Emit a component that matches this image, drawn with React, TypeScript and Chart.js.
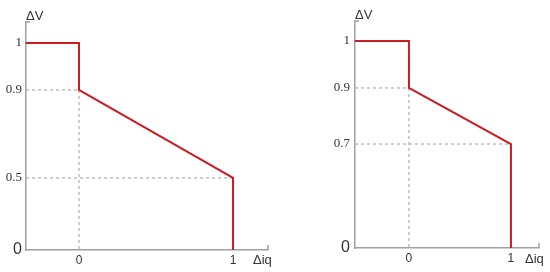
import React, { useEffect, useRef } from 'react';
import { Chart, registerables, LinearScale } from 'chart.js';

Chart.register(...registerables);

// ---- data ----
const xTicks = [0, 1];
const leftYTicks = [0, 0.5, 0.9, 1];
const rightYTicks = [0, 0.7, 0.9, 1];
// ΔV levels: [before Δiq=0, just after step at Δiq=0, at Δiq=1]
const leftLevels = [1, 0.9, 0.5];
const rightLevels = [1, 0.9, 0.7];
const xLabel = 'Δiq';
const yLabel = 'ΔV';

// Schematic (non-uniform) vertical axis: piecewise-linear value -> fraction mapping
class PiecewiseScale extends LinearScale {
  static id = 'piecewise';
  static defaults = LinearScale.defaults;
  _frac(v: number) {
    const k: number[] = (this as any).options.knots;
    const f: number[] = (this as any).options.fracs;
    const n = k.length - 1;
    if (v <= k[0]) return f[0] + ((v - k[0]) * (f[1] - f[0])) / (k[1] - k[0]);
    for (let i = 1; i <= n; i++) {
      if (v <= k[i]) return f[i - 1] + ((v - k[i - 1]) * (f[i] - f[i - 1])) / (k[i] - k[i - 1]);
    }
    return f[n] + ((v - k[n]) * (f[n] - f[n - 1])) / (k[n] - k[n - 1]);
  }
  getPixelForValue(v: any) {
    if (v === null || v === undefined) return NaN;
    return (this as any).getPixelForDecimal(this._frac(v));
  }
  getValueForPixel(p: number) {
    const d = (this as any).getDecimalForPixel(p);
    const k: number[] = (this as any).options.knots;
    const f: number[] = (this as any).options.fracs;
    for (let i = 1; i < k.length; i++) {
      if (d <= f[i]) return k[i - 1] + ((d - f[i - 1]) * (k[i] - k[i - 1])) / (f[i] - f[i - 1]);
    }
    return k[k.length - 1];
  }
}
Chart.register(PiecewiseScale as any);

const SANS = '"Liberation Sans", Arial, sans-serif';
const SERIF = '"Liberation Serif", "Times New Roman", serif';
const AXIS_COLOR = '#a0a0a0';
const TEXT_COLOR = '#333333';

const axisEnds = {
  id: 'axisEnds',
  afterDraw(chart: any, _args: any, opts: any) {
    const { ctx } = chart;
    const { left, right, top, bottom } = chart.chartArea;
    ctx.save();
    ctx.strokeStyle = AXIS_COLOR;
    ctx.lineWidth = 1.5;
    ctx.beginPath();
    ctx.moveTo(left, top);
    ctx.lineTo(left + 4, top);
    ctx.moveTo(right, bottom);
    ctx.lineTo(right, bottom - 5);
    ctx.stroke();
    ctx.fillStyle = TEXT_COLOR;
    ctx.font = '13px ' + SANS;
    ctx.textAlign = 'left';
    ctx.textBaseline = 'alphabetic';
    ctx.fillText(opts.yText, left, top - 2);
    ctx.fillText(opts.xText, right - opts.xShift, bottom + opts.xDrop);
    ctx.restore();
  },
};

function buildConfig(p: {
  levels: number[];
  yTicks: number[];
  xMin: number;
  xMax: number;
  fracs: number[];
  padTop: number;
  padRight: number;
  yW: number;
  xH: number;
  xShift: number;
  xDrop: number;
  yPad: number;
}) {
  const { levels, yTicks, xMin, xMax } = p;
  const dash = (pts: any[]) => ({
    data: pts,
    borderColor: '#9c9c9c',
    borderWidth: 1,
    borderDash: [3, 3],
    pointRadius: 0,
    order: 2,
  });
  const red = {
    data: [
      { x: xMin, y: levels[0] },
      { x: 0, y: levels[0] },
      { x: 0, y: levels[1] },
      { x: 1, y: levels[2] },
      { x: 1, y: 0 },
    ],
    borderColor: '#cc1b22',
    borderWidth: 2,
    pointRadius: 0,
    tension: 0,
    order: 0,
  };
  const knots = [0, yTicks[1], yTicks[2], yTicks[3], 1.1];
  return {
    type: 'line',
    data: {
      datasets: [
        dash([{ x: xMin, y: levels[1] }, { x: 0, y: levels[1] }]),
        dash([{ x: 0, y: levels[1] }, { x: 0, y: 0 }]),
        dash([{ x: xMin, y: levels[2] }, { x: 1, y: levels[2] }]),
        red,
      ],
    },
    plugins: [axisEnds],
    options: {
      animation: false,
      responsive: false,
      events: [],
      layout: { padding: { top: p.padTop, right: p.padRight, left: 0, bottom: 0 } },
      plugins: {
        legend: { display: false },
        tooltip: { enabled: false },
        axisEnds: { yText: yLabel, xText: xLabel, xShift: p.xShift, xDrop: p.xDrop },
      },
      scales: {
        x: {
          type: 'linear',
          min: xMin,
          max: xMax,
          grid: { display: false, drawTicks: false },
          border: { display: true, color: AXIS_COLOR, width: 1.5 },
          ticks: {
            padding: 3,
            color: TEXT_COLOR,
            font: { family: SANS, size: 12 },
            autoSkip: false,
            maxRotation: 0,
            callback: (v: any) => String(v),
          },
          afterBuildTicks: (s: any) => {
            s.ticks = xTicks.map((v) => ({ value: v }));
          },
          afterFit: (s: any) => {
            s.height = p.xH;
          },
        },
        y: {
          type: 'piecewise',
          min: 0,
          max: 1.1,
          knots,
          fracs: p.fracs,
          grid: { display: false, drawTicks: false },
          border: { display: true, color: AXIS_COLOR, width: 1.5 },
          ticks: {
            padding: p.yPad,
            color: TEXT_COLOR,
            autoSkip: false,
            font: (ctx: any) =>
              ctx.tick && ctx.tick.value === 0
                ? { family: SANS, size: 16 }
                : { family: SERIF, size: 13 },
            callback: (v: any) => String(v),
          },
          afterBuildTicks: (s: any) => {
            s.ticks = yTicks.map((v) => ({ value: v }));
          },
          afterFit: (s: any) => {
            s.width = p.yW;
          },
        },
      },
    },
  };
}

function Panel({ config, left }: { config: any; left: number }) {
  const ref = useRef<HTMLCanvasElement | null>(null);
  useEffect(() => {
    const chart = new Chart(ref.current as HTMLCanvasElement, config as any);
    return () => chart.destroy();
  }, []);
  return (
    <canvas
      ref={ref}
      width={275}
      height={272}
      style={{ position: 'absolute', left, top: 0, width: 275, height: 272 }}
    />
  );
}

export default function App() {
  const leftCfg = buildConfig({
    levels: leftLevels,
    yTicks: leftYTicks,
    xMin: -0.344,
    xMax: 1.227,
    fracs: [0, 0.316, 0.702, 0.908, 1],
    padTop: 22,
    padRight: 7,
    yW: 26,
    xH: 22,
    xShift: 15,
    xDrop: 14,
    yPad: 4,
  });
  const rightCfg = buildConfig({
    levels: rightLevels,
    yTicks: rightYTicks,
    xMin: -0.529,
    xMax: 1.275,
    fracs: [0, 0.458, 0.705, 0.912, 1],
    padTop: 21,
    padRight: 11,
    yW: 80,
    xH: 24,
    xShift: 14,
    xDrop: 15,
    yPad: 5,
  });
  return (
    <div style={{ position: 'absolute', left: 0, top: 0, width: 550, height: 272, background: '#fff' }}>
      <Panel config={leftCfg} left={0} />
      <Panel config={rightCfg} left={275} />
    </div>
  );
}
